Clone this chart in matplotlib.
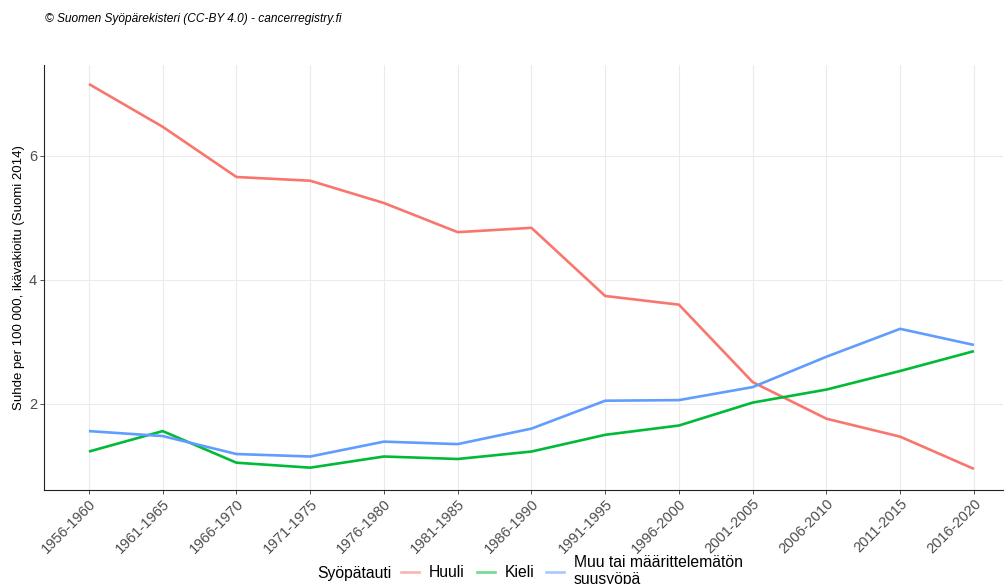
import matplotlib

matplotlib.use("Agg")

import matplotlib.pyplot as plt
from matplotlib.lines import Line2D

plt.rcParams["font.family"] = ["Liberation Sans", "DejaVu Sans"]

jaksot = [
    "1956-1960", "1961-1965", "1966-1970", "1971-1975", "1976-1980",
    "1981-1985", "1986-1990", "1991-1995", "1996-2000", "2001-2005",
    "2006-2010", "2011-2015", "2016-2020",
]
huuli = [7.16, 6.47, 5.66, 5.60, 5.24, 4.77, 4.84, 3.74, 3.60, 2.35, 1.76, 1.47, 0.95]
kieli = [1.23, 1.56, 1.05, 0.97, 1.15, 1.11, 1.23, 1.50, 1.65, 2.02, 2.23, 2.53, 2.85]
muu = [1.56, 1.48, 1.19, 1.15, 1.39, 1.35, 1.60, 2.05, 2.06, 2.27, 2.76, 3.21, 2.95]

sarjat = [
    ("Huuli", huuli, "#F8766D"),
    ("Kieli", kieli, "#00BA38"),
    ("Muu tai määrittelemätön\nsuusyöpä", muu, "#619CFF"),
]

fig = plt.figure(figsize=(10.06, 5.84), dpi=100)
ax = fig.add_axes([0.0437, 0.161, 0.953, 0.728])

x = list(range(len(jaksot)))
for nimi, arvot, vari in sarjat:
    ax.plot(x, arvot, color=vari, linewidth=1.9, solid_capstyle="butt")

ax.set_xlim(-0.61, 12.39)
ax.set_ylim(0.61, 7.47)
ax.set_xticks(x)
ax.set_xticklabels(jaksot, rotation=45, ha="right", rotation_mode="anchor",
                   fontsize=10.5, color="#4D4D4D")
ax.set_yticks([2, 4, 6])
ax.set_yticklabels(["2", "4", "6"], fontsize=10.5, color="#4D4D4D")
ax.tick_params(axis="both", length=3, color="#333333", width=0.6, pad=2)
ax.grid(True, color="#EBEBEB", linewidth=0.8)
ax.set_axisbelow(True)
for puoli in ["top", "right"]:
    ax.spines[puoli].set_visible(False)
for puoli in ["left", "bottom"]:
    ax.spines[puoli].set_linewidth(0.8)
    ax.spines[puoli].set_color("#222222")

ax.set_ylabel("Suhde per 100 000, ikävakioitu (Suomi 2014)", fontsize=9.5,
              labelpad=3)

fig.text(0.045, 0.967, "© Suomen Syöpärekisteri (CC-BY 4.0) - cancerregistry.fi",
         fontsize=8.6, style="italic", va="center", ha="left")

fig.text(0.315, 0.018, "Syöpätauti", fontsize=11.3, va="center", ha="left")
kahvat = [Line2D([0], [0], color=v, linewidth=1.9, alpha=0.55) for _, _, v in sarjat]
fig.legend(kahvat, [s[0] for s in sarjat], loc="center left",
           bbox_to_anchor=(0.399, 0.022), ncol=3, frameon=False, fontsize=11.3,
           handlelength=1.15, handletextpad=0.6, columnspacing=0.78,
           borderaxespad=0, borderpad=0)

fig.savefig("out.png", dpi=100)
